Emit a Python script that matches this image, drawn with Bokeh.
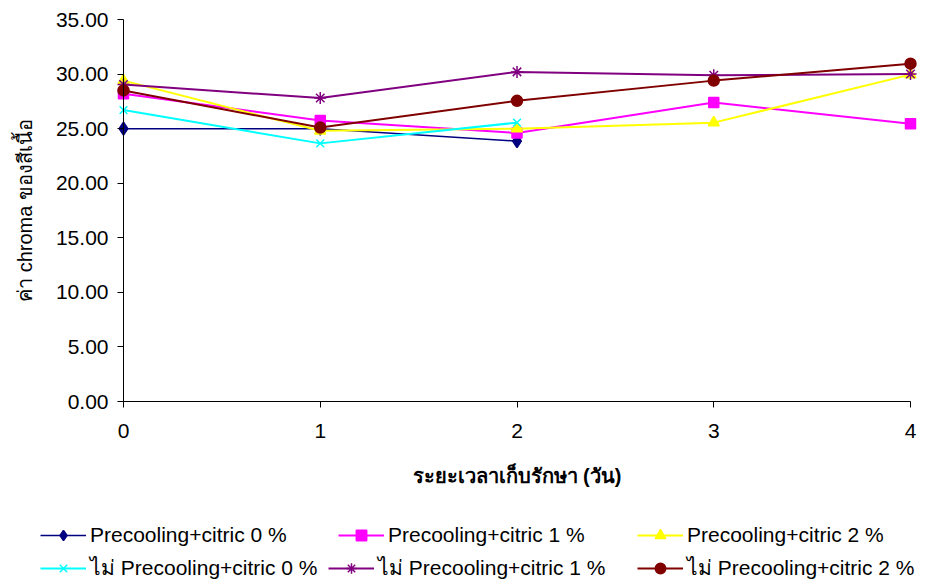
from bokeh.plotting import figure
from bokeh.models import Range1d, FixedTicker, NumeralTickFormatter, Legend, LegendItem
from bokeh.embed import file_html
from bokeh.resources import INLINE

# ---- data ----
days = [0, 1, 2, 3, 4]
x_tick_labels = {0: "0", 1: "1", 2: "2", 3: "3", 4: "4"}
y_ticks = [0, 5, 10, 15, 20, 25, 30, 35]

pc0 = [25.0, 25.0, 23.85]                 # Precooling+citric 0 %  (days 0-2)
pc1 = [28.2, 25.75, 24.6, 27.4, 25.45]    # Precooling+citric 1 %
pc2 = [29.4, 24.8, 25.0, 25.55, 29.95]    # Precooling+citric 2 %
np0 = [26.7, 23.65, 25.55]                # ไม่ Precooling+citric 0 % (days 0-2)
np1 = [29.05, 27.8, 30.2, 29.9, 30.0]     # ไม่ Precooling+citric 1 %
np2 = [28.5, 25.1, 27.55, 29.4, 30.95]    # ไม่ Precooling+citric 2 %

labels = ["Precooling+citric 0 %", "Precooling+citric 1 %", "Precooling+citric 2 %",
          "ไม่ Precooling+citric 0 %", "ไม่ Precooling+citric 1 %", "ไม่ Precooling+citric 2 %"]
series = [pc0, pc1, pc2, np0, np1, np2]

# ---- styles ----
colors = ["#000080", "#FF00FF", "#FFFF00", "#00FFFF", "#800080", "#800000"]
markers = ["diamond", "square", "triangle", "x", "asterisk", "circle"]
msizes = [13, 10, 11, 11, 12, 11]
lwidths = [1.5, 2, 2, 2, 2, 2]
FONT = "Liberation Sans"

# ---- layout (pixels) ----
W, H = 930, 585
FL, FR, FT, FB = 123, 910, 19, 401          # where the axes' extents sit
X0, X1, Y0, Y1 = 0, 4, 0, 35                # axis extents
legend_pos = [(40, 535), (338, 535), (637, 535), (40, 571), (328, 571), (637, 571)]
LH = 26

# the frame spans the whole canvas; ranges chosen so 0..4 / 0..35 land on the axis extents
sx = (FR - FL) / (X1 - X0)
sy = (FB - FT) / (Y1 - Y0)
x_range = Range1d(X0 - FL / sx, X0 + (W - FL) / sx)
y_range = Range1d(Y0 - (H - FB) / sy, Y0 + FB / sy)

p = figure(width=W, height=H, output_backend="svg", toolbar_location=None,
           x_range=x_range, y_range=y_range,
           min_border_left=0, min_border_right=0, min_border_top=0, min_border_bottom=0)
p.outline_line_color = None
p.background_fill_color = "white"
p.border_fill_color = "white"
p.xgrid.visible = False
p.ygrid.visible = False

renderers = []
for ys, c, m, s, lw in zip(series, colors, markers, msizes, lwidths):
    xs = days[:len(ys)]
    lr = p.line(xs, ys, line_color=c, line_width=lw)
    sr = p.scatter(xs, ys, marker=m, size=s, fill_color=c, line_color=c,
                   line_width=1.5)
    renderers.append((lr, sr))

# axes drawn at x=0 / y=0 inside the frame
p.xaxis.fixed_location = Y0
p.yaxis.fixed_location = X0
p.xaxis.bounds = (X0, X1)
p.yaxis.bounds = (Y0, Y1)
p.xaxis.ticker = FixedTicker(ticks=days)
p.xaxis.major_label_overrides = x_tick_labels
p.yaxis.ticker = FixedTicker(ticks=y_ticks)
p.yaxis.formatter = NumeralTickFormatter(format="0.00")
for ax in (p.xaxis, p.yaxis):
    ax.axis_line_color = "black"
    ax.axis_line_width = 1
    ax.major_tick_line_color = "black"
    ax.major_tick_in = 0
    ax.major_tick_out = 6
    ax.minor_tick_line_color = None
    ax.major_label_text_font = FONT
    ax.major_label_text_font_size = "21px"
    ax.major_label_text_color = "black"
    ax.axis_label_text_font = FONT
    ax.axis_label_text_font_size = "20px"
    ax.axis_label_text_color = "black"
p.xaxis.major_label_standoff = 16
p.yaxis.major_label_standoff = 9
p.xaxis.axis_label = "ระยะเวลาเก็บรักษา (วัน)"
p.xaxis.axis_label_text_font_style = "bold"
p.xaxis.axis_label_standoff = 24
p.yaxis.axis_label = "ค่า chroma ของสีเนื้อ"
p.yaxis.axis_label_text_font_style = "normal"
p.yaxis.axis_label_standoff = 17

# legend entries below the chart
for (gx, cy), lab, (lr, sr) in zip(legend_pos, labels, renderers):
    leg = Legend(items=[LegendItem(label=lab, renderers=[lr, sr])],
                 location=(gx, H - (cy + LH / 2)),
                 padding=0, margin=0, spacing=0,
                 glyph_width=46, glyph_height=LH, label_height=LH,
                 label_standoff=4,
                 label_text_font=FONT, label_text_font_size="21px",
                 label_text_color="black",
                 border_line_color=None, background_fill_alpha=0)
    p.add_layout(leg, "center")

open("out.html", "w").write(file_html(p, INLINE))
